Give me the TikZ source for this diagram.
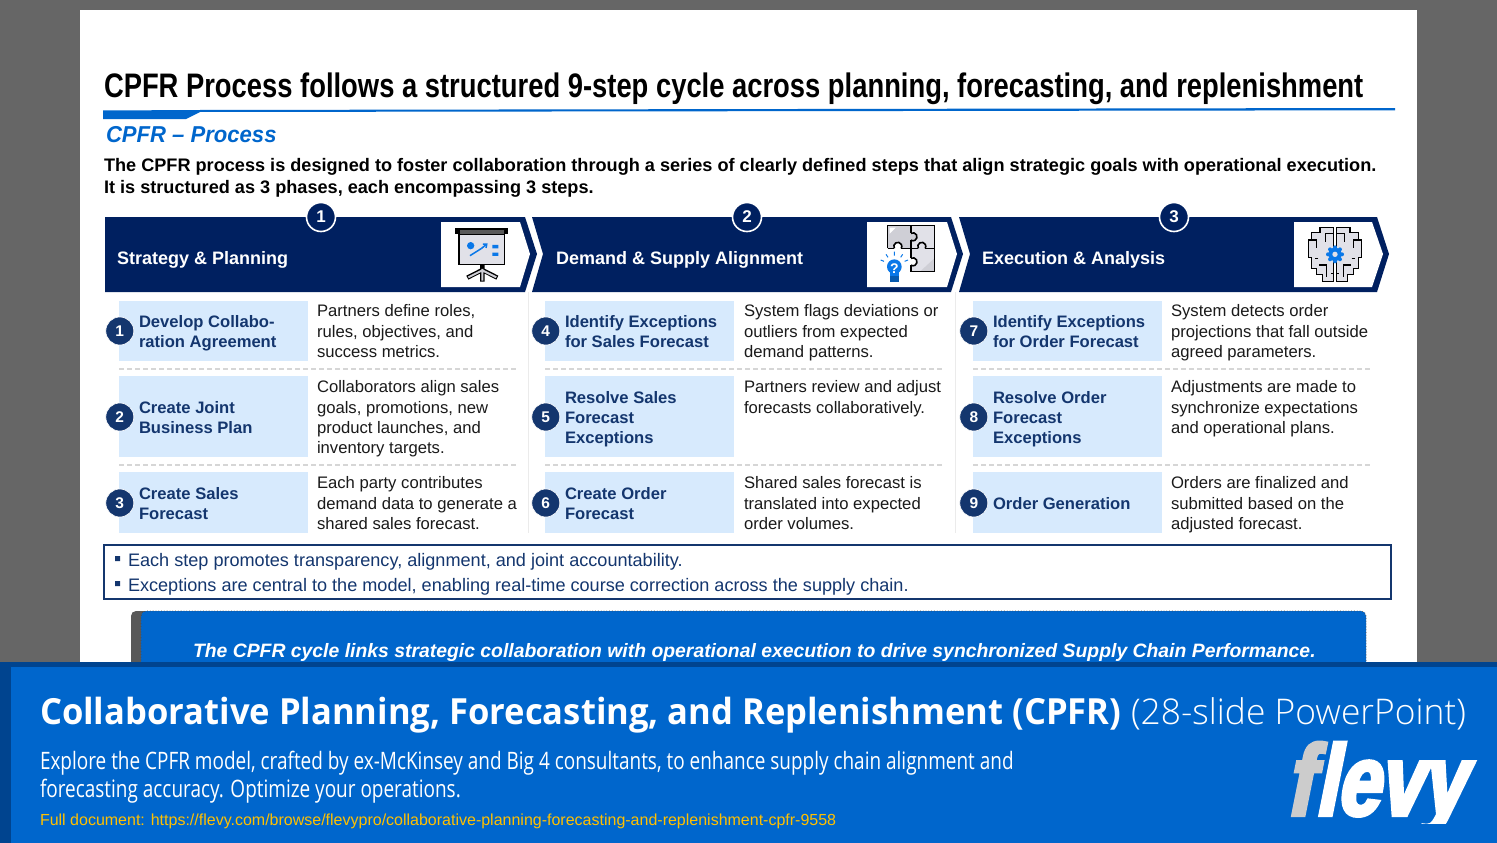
\documentclass[tikz,border=0pt]{standalone}
\usepackage{fontspec}
\usetikzlibrary{arrows.meta}
\setmainfont{Liberation Sans}
\newfontfamily\titlefont[FakeStretch=0.805]{Liberation Sans}
\newfontfamily\subfont[FakeStretch=0.96]{Liberation Sans}
\newfontfamily\bannerfont[FakeStretch=0.96]{Open Sans}
\newfontfamily\bannerlight{Open Sans Light}
\newfontfamily\bannercond[FakeStretch=0.79]{Open Sans}
\newfontfamily\logofont[FakeStretch=0.765,FakeSlant=0.2,FakeBold=4]{Liberation Sans Bold}
\definecolor{navy}{HTML}{002060}
\definecolor{stepnavy}{HTML}{14366E}
\definecolor{flevyblue}{HTML}{0066CC}
\definecolor{flevydark}{HTML}{00448F}
\definecolor{lightbox}{HTML}{D7EAFD}
\definecolor{bodyink}{HTML}{1A1A1A}
\definecolor{iconblue}{HTML}{0A78E8}
\definecolor{icongrey}{HTML}{E1E1E8}
\definecolor{icongreyd}{HTML}{CFCFD6}
\tikzset{
  txt/.style={inner sep=0pt,outer sep=0pt,anchor=north west,align=left},
  base/.style={inner sep=0pt,outer sep=0pt,anchor=base west},
  numdisc/.style={circle,minimum size=28pt,inner sep=0pt,fill=stepnavy,draw=white,line width=0.6pt,text=white,font=\fontsize{15.5}{16}\selectfont\bfseries},
  headdisc/.style={circle,minimum size=29pt,inner sep=0pt,fill=navy,draw=white,line width=1.6pt,text=white,font=\fontsize{17}{19}\selectfont\bfseries},
  headtxt/.style={base,text=white,font=\fontsize{18}{20}\selectfont\bfseries},
  steptitle/.style={txt,text=stepnavy,font=\fontsize{16.6}{20.2}\selectfont\bfseries},
  stepbody/.style={txt,text=bodyink,font=\fontsize{16.65}{20.2}\selectfont},
  dash sep/.style={draw=black!16,line width=1.2pt,dash pattern=on 5pt off 3pt},
  blk/.style={draw=black,line width=1.6pt,line join=miter}
}
\newcommand{\stepcard}[6]{% id, box x, y1, y2, number, circle y
  \fill[lightbox] (#2,#3) rectangle (#2+189,#4);
  \node[numdisc] (disc#1) at (#2+0.8,#6) {#5};
}
\begin{document}
\begin{tikzpicture}[x=1pt,y=-1pt]
\useasboundingbox (0,0) rectangle (1497,843);
\fill[black!60] (0,0) rectangle (1497,843);
\fill[white] (80,10) rectangle (1417,662);

% title
\node[base,font=\titlefont\fontsize{34}{34}\selectfont\bfseries] (title) at (104,97) {CPFR Process follows a structured 9-step cycle across planning, forecasting, and replenishment};
\fill[flevyblue] (103,110.5) -- (200,110) -- (1395,108) -- (1395,110.3) -- (200,112) -- (186,119) -- (103,119) -- cycle;
\node[base,text=flevyblue,font=\subfont\fontsize{23}{24}\selectfont\bfseries\itshape] (sub) at (106,142) {CPFR – Process};
\node[txt,font=\fontsize{18.13}{22}\selectfont\bfseries] (intro) at (104,155.6) {\strut The CPFR process is designed to foster collaboration through a series of clearly defined steps that align strategic goals with operational execution.\\It is structured as 3 phases, each encompassing 3 steps.};

% phase bands
\fill[navy] (105,217) -- (525,217) -- (537,254) -- (525,292) -- (105,292) -- cycle;
\fill[navy] (532,217) -- (951,217) -- (963,254) -- (951,292) -- (532,292) -- (543,254) -- cycle;
\fill[navy] (959,217) -- (1377,217) -- (1389,254) -- (1377,292) -- (959,292) -- (970,254) -- cycle;
\fill[white] (441,222) -- (520,222) -- (530,254) -- (520,287) -- (441,287) -- cycle;
\fill[white] (867,222) -- (947,222) -- (957,254) -- (947,287) -- (867,287) -- cycle;
\fill[white] (1294,222) -- (1372,222) -- (1383,254) -- (1372,287) -- (1294,287) -- cycle;
\node[headdisc] (h1) at (321,217) {1};
\node[headdisc] (h2) at (747,217) {2};
\node[headdisc] (h3) at (1174,217) {3};
\node[headtxt] (ht1) at (117,264) {Strategy \& Planning};
\node[headtxt] (ht2) at (556,264) {Demand \& Supply Alignment};
\node[headtxt] (ht3) at (982,264) {Execution \& Analysis};

% presentation icon
\begin{scope}[shift={(440,215)},x=0.3333pt,y=-0.3333pt]
  \fill[black] (45,40) rectangle (205,58);
  \fill[black!65] (60,45) rectangle (192,56);
  \draw[blk,fill=icongrey] (57,58) rectangle (193,148);
  \fill[iconblue] (92,92) circle (11);
  \draw[iconblue,line width=1.5pt] (90,122) -- (125,100);
  \draw[iconblue,line width=1.5pt,-{Straight Barb[length=3pt,width=5pt]}] (125,100) -- (143,85);
  \fill[iconblue] (157,90) rectangle (175,100) (157,113) rectangle (175,123);
  \draw[black,line width=4.4pt] (127,148) -- (127,200) (127,165) -- (82,188) (127,165) -- (172,188);
  \draw[icongreyd,line width=2pt] (127,162) -- (127,197) (127,166) -- (85,187) (127,166) -- (169,187);
\end{scope}

% puzzle icon
\begin{scope}[shift={(865,215)},x=0.3333pt,y=-0.3333pt]
  \fill[icongreyd] (68,32) rectangle (138,100);
  \fill[white] (74,38) -- (92,38) -- (74,56) -- cycle;
  \fill[icongrey] (138,32) rectangle (208,100);
  \fill[icongrey] (138,100) rectangle (208,170);
  \fill[icongreyd] (208,130) -- (208,170) -- (165,170) -- cycle;
  % vertical upper seam with a tab to the right
  \draw[blk,fill=icongreyd] (138,55) arc[start angle=-120,end angle=120,radius=12];
  \draw[blk] (138,32) -- (138,55) (138,75.8) -- (138,130);
  % right horizontal seam with a tab upwards
  \draw[blk,fill=icongrey] (160,100) arc[start angle=150,end angle=390,radius=12];
  \draw[blk] (138,100) -- (160,100) (180.8,100) -- (208,100);
  % left horizontal seam with a white notch
  \draw[blk,fill=white] (88,100) arc[start angle=150,end angle=390,radius=12];
  \draw[blk] (68,100) -- (88,100) (108.8,100) -- (138,100);
  % lower seam with a white notch
  \draw[blk,fill=white] (138,130) arc[start angle=-120,end angle=120,radius=12];
  \draw[blk] (138,150.8) -- (138,170);
  % outer edge
  \draw[blk] (68,100) -- (68,32) -- (208,32) -- (208,170) -- (138,170);
  % bulb
  \fill[iconblue] (88,155) circle (22);
  \fill[iconblue] (75,165) rectangle (102,185);
  \fill[iconblue!75!black] (75,183) rectangle (102,200);
  \node[text=white,font=\fontsize{14}{14}\selectfont\bfseries] (qmark) at (88,160) {?};
  \draw[iconblue,line width=1pt] (88,110) -- (88,122) (63,118) -- (69,127) (113,118) -- (107,127) (47,135) -- (57,139) (129,135) -- (119,139);
\end{scope}

% brain icon
\begin{scope}[shift={(1290,215)},x=0.3333pt,y=-0.3333pt]
  \foreach \flip/\nm in {1/a,-1/b}{
  \begin{scope}[shift={(135,0)},xscale=\flip]
    \draw[blk,fill=icongrey] (5,38) -- (45,38) -- (45,52) -- (70,52) -- (70,75) -- (80,75) -- (80,128) -- (70,128) -- (70,160) -- (55,160) -- (55,178) -- (38,178) -- (38,200) -- (5,200) -- cycle;
    \draw[black,line width=1.3pt] (5,55) -- (28,55) -- (28,80) (70,75) -- (55,75) -- (55,100) (50,130) -- (60,130) (48,150) -- (25,150) -- (25,185) (5,175) -- (12,175);
  \end{scope}}
  \foreach \a in {0,45,...,315}{\fill[iconblue] (135,118)++(\a:21) circle (6);}
  \fill[iconblue] (135,118) circle (20);
  \fill[icongrey] (135,118) circle (8);
\end{scope}

% faint column separators
\draw[black!8,line width=1pt] (528,292) -- (528,533) (955,292) -- (955,533);

% column 1
\stepcard{1}{119}{301}{361}{1}{331}
\stepcard{2}{119}{376}{457}{2}{417}
\stepcard{3}{119}{472}{533}{3}{503}
\draw[dash sep] (119,369) -- (517,369) (119,465) -- (517,465);
\node[steptitle] (t1) at (139,313) {\strut Develop Collabo-\\ration Agreement};
\node[steptitle] (t2) at (139,399) {\strut Create Joint\\Business Plan};
\node[steptitle] (t3) at (139,485) {\strut Create Sales\\Forecast};
\node[stepbody] (b1) at (317,302.8) {\strut Partners define roles,\\rules, objectives, and\\success metrics.};
\node[stepbody] (b2) at (317,378.8) {\strut Collaborators align sales\\goals, promotions, new\\product launches, and\\inventory targets.};
\node[stepbody] (b3) at (317,474.8) {\strut Each party contributes\\demand data to generate a\\shared sales forecast.};

% column 2
\stepcard{4}{545}{301}{361}{4}{331}
\stepcard{5}{545}{376}{457}{5}{417}
\stepcard{6}{545}{472}{533}{6}{503}
\draw[dash sep] (545,369) -- (944,369) (545,465) -- (944,465);
\node[steptitle] (t4) at (565,313) {\strut Identify Exceptions\\for Sales Forecast};
\node[steptitle] (t5) at (565,389) {\strut Resolve Sales\\Forecast\\Exceptions};
\node[steptitle] (t6) at (565,485) {\strut Create Order\\Forecast};
\node[stepbody] (b4) at (744,302.8) {\strut System flags deviations or\\outliers from expected\\demand patterns.};
\node[stepbody] (b5) at (744,378.8) {\strut Partners review and adjust\\forecasts collaboratively.};
\node[stepbody] (b6) at (744,474.8) {\strut Shared sales forecast is\\translated into expected\\order volumes.};

% column 3
\stepcard{7}{973}{301}{361}{7}{331}
\stepcard{8}{973}{376}{457}{8}{417}
\stepcard{9}{973}{472}{533}{9}{503}
\draw[dash sep] (973,369) -- (1371,369) (973,465) -- (1371,465);
\node[steptitle] (t7) at (993,313) {\strut Identify Exceptions\\for Order Forecast};
\node[steptitle] (t8) at (993,389) {\strut Resolve Order\\Forecast\\Exceptions};
\node[steptitle] (t9) at (993,495) {\strut Order Generation};
\node[stepbody] (b7) at (1171,302.8) {\strut System detects order\\projections that fall outside\\agreed parameters.};
\node[stepbody] (b8) at (1171,378.8) {\strut Adjustments are made to\\synchronize expectations\\and operational plans.};
\node[stepbody] (b9) at (1171,474.8) {\strut Orders are finalized and\\submitted based on the\\adjusted forecast.};

% note box
\draw[stepnavy,line width=2pt] (104,545) rectangle (1391,599);
\fill[stepnavy] (115,556) rectangle (120,561) (115,581) rectangle (120,586);
\node[base,text=stepnavy,font=\fontsize{18.1}{18}\selectfont] (n1) at (128,566) {Each step promotes transparency, alignment, and joint accountability.};
\node[base,text=stepnavy,font=\fontsize{18.1}{18}\selectfont] (n2) at (128,591) {Exceptions are central to the model, enabling real-time course correction across the supply chain.};

% callout
\fill[black!65,rounded corners=5pt] (131,611) rectangle (160,680);
\fill[flevyblue,rounded corners=5pt] (141,611) rectangle (1366,680);
\draw[black!70,line width=0.8pt,dotted,rounded corners=5pt] (141,680) -- (141,611) -- (1366,611) -- (1366,680);
\node[base,text=white,font=\fontsize{19.37}{20}\selectfont\bfseries\itshape] (call) at (193,657) {The CPFR cycle links strategic collaboration with operational execution to drive synchronized Supply Chain Performance.};

% banner
\fill[flevyblue] (0,662) rectangle (1497,843);
\fill[flevydark] (0,662) rectangle (1497,667);
\fill[flevydark] (0,662) rectangle (11,843);
\node[base,text=white,font=\bannerfont\fontsize{36}{36}\selectfont\bfseries] (bt) at (40,724) {Collaborative Planning, Forecasting, and Replenishment (CPFR)};
\node[base,text=white,font=\bannerlight\fontsize{35.4}{36}\selectfont] (bl) at (1131,724) {(28-slide PowerPoint)};
\node[base,text=white,font=\bannercond\fontsize{24}{24}\selectfont] (d1) at (40,769) {Explore the CPFR model, crafted by ex-McKinsey and Big 4 consultants, to enhance supply chain alignment and};
\node[base,text=white,font=\bannercond\fontsize{24}{24}\selectfont] (d2) at (40,797) {forecasting accuracy. Optimize your operations.};
\node[base,text={rgb,255:red,255;green,192;blue,0},font=\fontsize{16}{16}\selectfont] (link) at (40,825) {Full document: https://flevy.com/browse/flevypro/collaborative-planning-forecasting-and-replenishment-cpfr-9558};
\begin{scope}
  \clip (1270,735) rectangle (1497,823);
  \node[base,text=black!20,font=\logofont\fontsize{100}{100}\selectfont] (logof) at (1286,815) {f};
  \node[base,text=white,font=\logofont\fontsize{100}{100}\selectfont] (logo) at (1315,815) {levy};
\end{scope}
\end{tikzpicture}
\end{document}
